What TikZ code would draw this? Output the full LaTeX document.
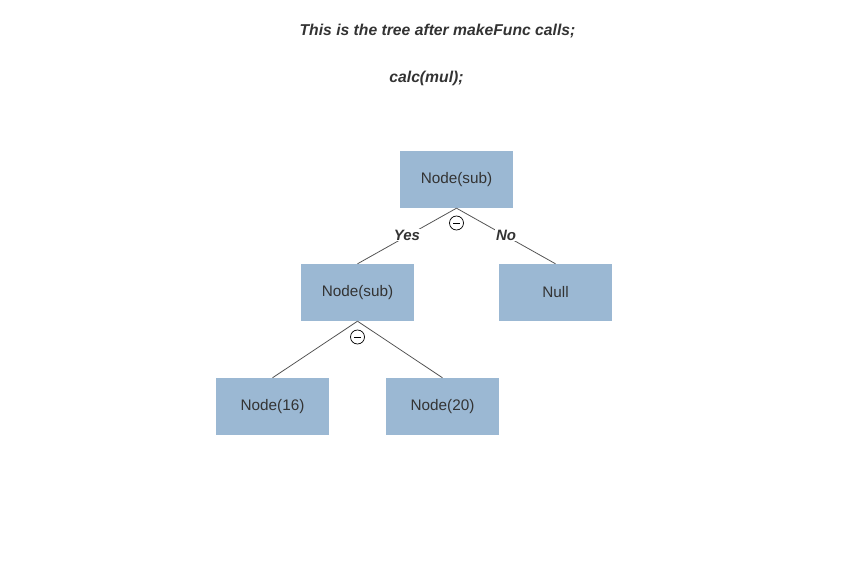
\documentclass[tikz,border=0pt]{standalone}
\usepackage{fontspec}
\setmainfont{Liberation Sans}
\definecolor{boxfill}{HTML}{9BB8D3}
\definecolor{txt}{HTML}{333333}
\definecolor{edge}{HTML}{555555}
\begin{document}
\begin{tikzpicture}[x=1pt,y=-1pt,
  treebox/.style={rectangle,fill=boxfill,minimum width=113pt,minimum height=57pt,inner sep=0pt,text=txt,font=\fontsize{15.3}{18}\selectfont},
  conn/.style={draw=edge,line width=0.8pt},
  lbl/.style={fill=white,inner sep=1pt,text=txt,font=\fontsize{15}{18}\selectfont\bfseries\itshape},
  collapse/.style={circle,draw=black,line width=0.7pt,minimum size=14pt,inner sep=0pt,fill=white},
  title/.style={text=txt,font=\fontsize{15.7}{19}\selectfont\bfseries\itshape}]
\useasboundingbox (0,0) rectangle (846,588);
\node[title] (t1) at (437.5,31.5) {This is the tree after makeFunc calls;};
\node[title] (t2) at (426.5,78.5) {calc(mul);};

\node[treebox] (root) at (456.5,179.5) {Node(sub)};
\node[treebox] (l) at (357.5,292.5) {Node(sub)};
\node[treebox] (r) at (555.5,292.5) {Null};
\node[treebox] (ll) at (272.5,406.5) {Node(16)};
\node[treebox] (lr) at (442.5,406.5) {Node(20)};

\draw[conn] (root.south) -- node[lbl,pos=0.5,yshift=1pt] {Yes} (l.north);
\draw[conn] (root.south) -- node[lbl,pos=0.5,yshift=1pt] {No} (r.north);
\draw[conn] (l.south) -- (ll.north);
\draw[conn] (l.south) -- (lr.north);

\node[collapse] (c1) at (456.5,223) {};
\draw[line width=0.8pt] ([xshift=-3.5pt]c1.center) -- ([xshift=3.5pt]c1.center);
\node[collapse] (c2) at (357.5,337) {};
\draw[line width=0.8pt] ([xshift=-3.5pt]c2.center) -- ([xshift=3.5pt]c2.center);
\end{tikzpicture}
\end{document}
